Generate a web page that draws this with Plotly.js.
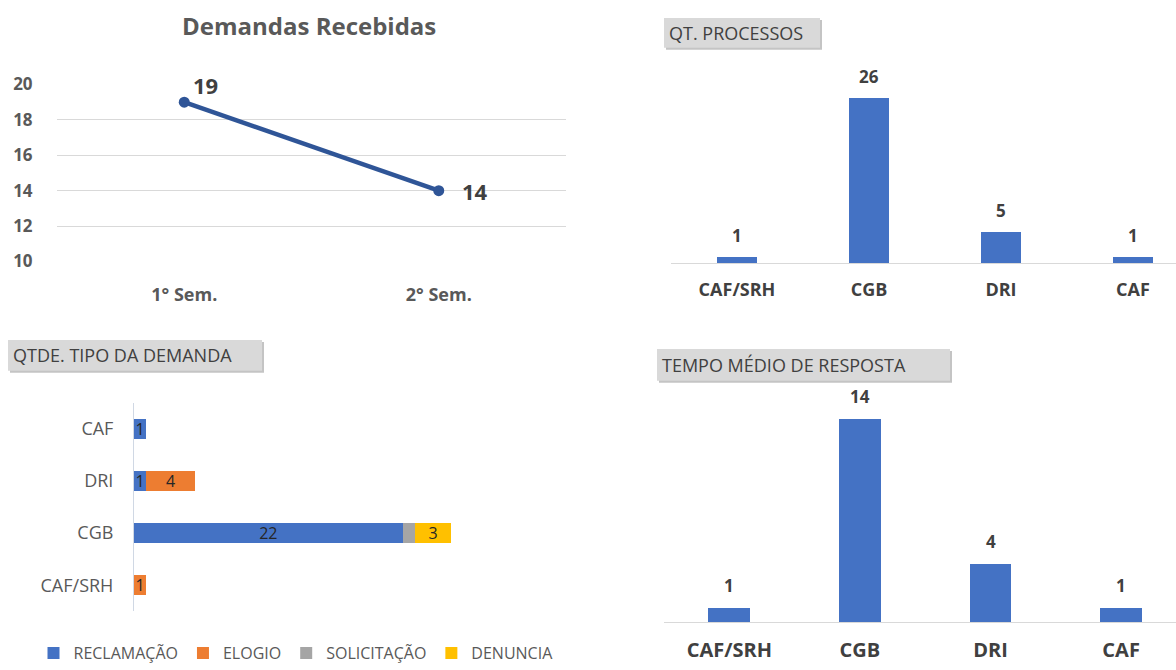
<!DOCTYPE html>
<html><head><meta charset="utf-8">
<script src="https://cdn.plot.ly/plotly-3.0.1.min.js"></script>
<style>html,body{margin:0;padding:0;background:#fff}#chart{width:1176px;height:670px}</style>
</head><body><div id="chart"></div>
<script>
// ---- data ----
const semesters = ['1° Sem.', '2° Sem.'];
const demandasRecebidas = [19, 14];

const tipoCategories = ['CAF/SRH', 'CGB', 'DRI', 'CAF'];
const reclamacao = [null, 22, 1, 1];
const elogio = [1, null, 4, null];
const solicitacao = [null, 1, null, null];
const denuncia = [null, 3, null, null];

const unidades = ['CAF/SRH', 'CGB', 'DRI', 'CAF'];
const qtProcessos = [1, 26, 5, 1];
const tempoMedio = [1, 14, 4, 1];

// ---- helpers ----
const W = 1176, H = 670;
const px = v => v / W;
const py = v => 1 - v / H;
const FONT = 'Open Sans, Noto Sans, sans-serif';
const BLUE = '#4472C4', ORANGE = '#ED7D31', GRAY = '#A5A5A5', YELLOW = '#FFC000';
const LINE = '#2F5597';
const TXT = '#595959', TXT_D = '#404040';

const lbl = arr => arr.map(v => v == null ? '' : String(v));

const traces = [
  {type: 'scatter', mode: 'lines+markers', x: semesters, y: demandasRecebidas,
   xaxis: 'x', yaxis: 'y', line: {color: LINE, width: 4.5}, marker: {color: LINE, size: 11},
   showlegend: false, hoverinfo: 'skip', cliponaxis: false},
];
const stackSeries = [
  ['RECLAMAÇÃO', reclamacao, BLUE, true],
  ['ELOGIO', elogio, ORANGE, true],
  ['SOLICITAÇÃO', solicitacao, GRAY, false],
  ['DENUNCIA', denuncia, YELLOW, true],
];
stackSeries.forEach(([name, vals, col, showText]) => {
  traces.push({type: 'bar', orientation: 'h', name: name, y: tipoCategories, x: vals,
    xaxis: 'x2', yaxis: 'y2', marker: {color: col}, width: 0.38,
    text: lbl(vals), textposition: showText ? 'inside' : 'none', insidetextanchor: 'middle',
    textangle: 0, constraintext: 'none', textfont: {family: FONT, size: 16, color: '#262626'},
    hoverinfo: 'skip'});
});
traces.push({type: 'bar', x: unidades, y: qtProcessos, xaxis: 'x3', yaxis: 'y3',
  marker: {color: BLUE}, width: 0.31, showlegend: false, hoverinfo: 'skip'});
traces.push({type: 'bar', x: unidades, y: tempoMedio, xaxis: 'x4', yaxis: 'y4',
  marker: {color: BLUE}, width: 0.32, showlegend: false, hoverinfo: 'skip'});

const annotations = [];
// chart title
annotations.push({xref: 'paper', yref: 'paper', x: px(309), y: py(26), text: 'Demandas Recebidas',
  showarrow: false, xanchor: 'center', yanchor: 'middle',
  font: {family: FONT, size: 24, color: TXT, weight: 'bold'}});
// line labels
const lineShift = [[21, 17], [36, 0]];
demandasRecebidas.forEach((v, i) => {
  annotations.push({xref: 'x', yref: 'y', x: semesters[i], y: v, text: String(v), showarrow: false,
    xshift: lineShift[i][0], yshift: lineShift[i][1],
    font: {family: FONT, size: 22, color: TXT_D, weight: 'bold'}});
});
// bar value labels
qtProcessos.forEach((v, i) => annotations.push({xref: 'x3', yref: 'y3', x: unidades[i], y: v,
  text: String(v), showarrow: false, yanchor: 'bottom', yshift: 8,
  font: {family: FONT, size: 17, color: TXT_D, weight: 'bold'}}));
tempoMedio.forEach((v, i) => annotations.push({xref: 'x4', yref: 'y4', x: unidades[i], y: v,
  text: String(v), showarrow: false, yanchor: 'bottom', yshift: 9,
  font: {family: FONT, size: 17, color: TXT_D, weight: 'bold'}}));

// boxed section titles
const boxes = [
  {x0: 664, x1: 820, y0: 18, y1: 48, text: 'QT. PROCESSOS'},
  {x0: 8, x1: 262, y0: 342, y1: 373, text: 'QTDE. TIPO DA DEMANDA'},
  {x0: 657, x1: 950, y0: 351, y1: 383, text: 'TEMPO MÉDIO DE RESPOSTA'},
];
const shapes = [];
boxes.forEach(b => {
  shapes.push({type: 'rect', xref: 'paper', yref: 'paper', x0: px(b.x0 + 2), x1: px(b.x1 + 2),
    y0: py(b.y1 + 2), y1: py(b.y0 + 2), fillcolor: '#c4c4c4', line: {width: 0}, layer: 'below'});
  shapes.push({type: 'rect', xref: 'paper', yref: 'paper', x0: px(b.x0), x1: px(b.x1),
    y0: py(b.y1), y1: py(b.y0), fillcolor: '#d9d9d9', line: {width: 0}, layer: 'below'});
  annotations.push({xref: 'paper', yref: 'paper', x: px(b.x0 + 3), y: py((b.y0 + b.y1) / 2),
    xanchor: 'left', yanchor: 'middle', text: b.text, showarrow: false,
    font: {family: FONT, size: 18, color: TXT_D}});
});

const hidden = {visible: false};
const layout = {
  width: W, height: H, autosize: false,
  margin: {l: 0, r: 0, t: 0, b: 0},
  paper_bgcolor: '#fff', plot_bgcolor: 'rgba(0,0,0,0)',
  barmode: 'stack',
  font: {family: FONT, color: TXT},
  showlegend: true,
  legend: {orientation: 'h', x: px(296), xanchor: 'center', y: py(657), yanchor: 'middle',
    traceorder: 'normal', font: {family: FONT, size: 16, color: TXT}, bgcolor: 'rgba(0,0,0,0)'},
  xaxis: {domain: [px(57), px(566)], anchor: 'y', type: 'category', range: [-0.5, 1.5],
    showgrid: false, zeroline: false, showline: false, fixedrange: true,
    ticks: 'outside', ticklen: 16, tickcolor: 'rgba(0,0,0,0)',
    tickfont: {family: FONT, size: 18, color: TXT, weight: 'bold'}},
  yaxis: {domain: [py(263.9), py(84.1)], anchor: 'x', range: [9.95, 20.05], tick0: 10, dtick: 2,
    showgrid: true, gridcolor: '#d9d9d9', gridwidth: 1, zeroline: false, showline: false,
    ticks: 'outside', ticklen: 20, tickcolor: 'rgba(0,0,0,0)',
    tickfont: {family: FONT, size: 17, color: TXT, weight: 'bold'}},
  xaxis2: {domain: [px(134), px(620)], anchor: 'y2', range: [0, 39.8],
    showgrid: false, zeroline: false, showline: false, showticklabels: false, ticks: ''},
  yaxis2: {domain: [py(615), py(405)], anchor: 'x2', type: 'category', range: [-0.5, 3.5],
    showgrid: false, zeroline: false, showline: true, linecolor: '#d0d8e4', linewidth: 1,
    ticks: 'outside', ticklen: 16, tickcolor: 'rgba(0,0,0,0)',
    tickfont: {family: FONT, size: 18, color: TXT}},
  xaxis3: {domain: [px(671), 1], anchor: 'y3', type: 'category', range: [-0.5, 3.326],
    showgrid: false, zeroline: false, showline: true, linecolor: '#d9d9d9', linewidth: 1,
    ticks: 'outside', ticklen: 10, tickcolor: 'rgba(0,0,0,0)',
    tickfont: {family: FONT, size: 18, color: TXT_D, weight: 'bold'}},
  yaxis3: Object.assign({domain: [py(265), py(60)], anchor: 'x3', range: [0, 32.1]}, hidden),
  xaxis4: {domain: [px(664), 1], anchor: 'y4', type: 'category', range: [-0.5, 3.42],
    showgrid: false, zeroline: false, showline: true, linecolor: '#d9d9d9', linewidth: 1,
    ticks: 'outside', ticklen: 10, tickcolor: 'rgba(0,0,0,0)',
    tickfont: {family: FONT, size: 20, color: TXT_D, weight: 'bold'}},
  yaxis4: Object.assign({domain: [py(626), py(395)], anchor: 'x4', range: [0, 15.85]}, hidden),
  annotations: annotations,
  shapes: shapes,
};

Plotly.newPlot('chart', traces, layout, {staticPlot: true, displayModeBar: false});
</script>
</body></html>
